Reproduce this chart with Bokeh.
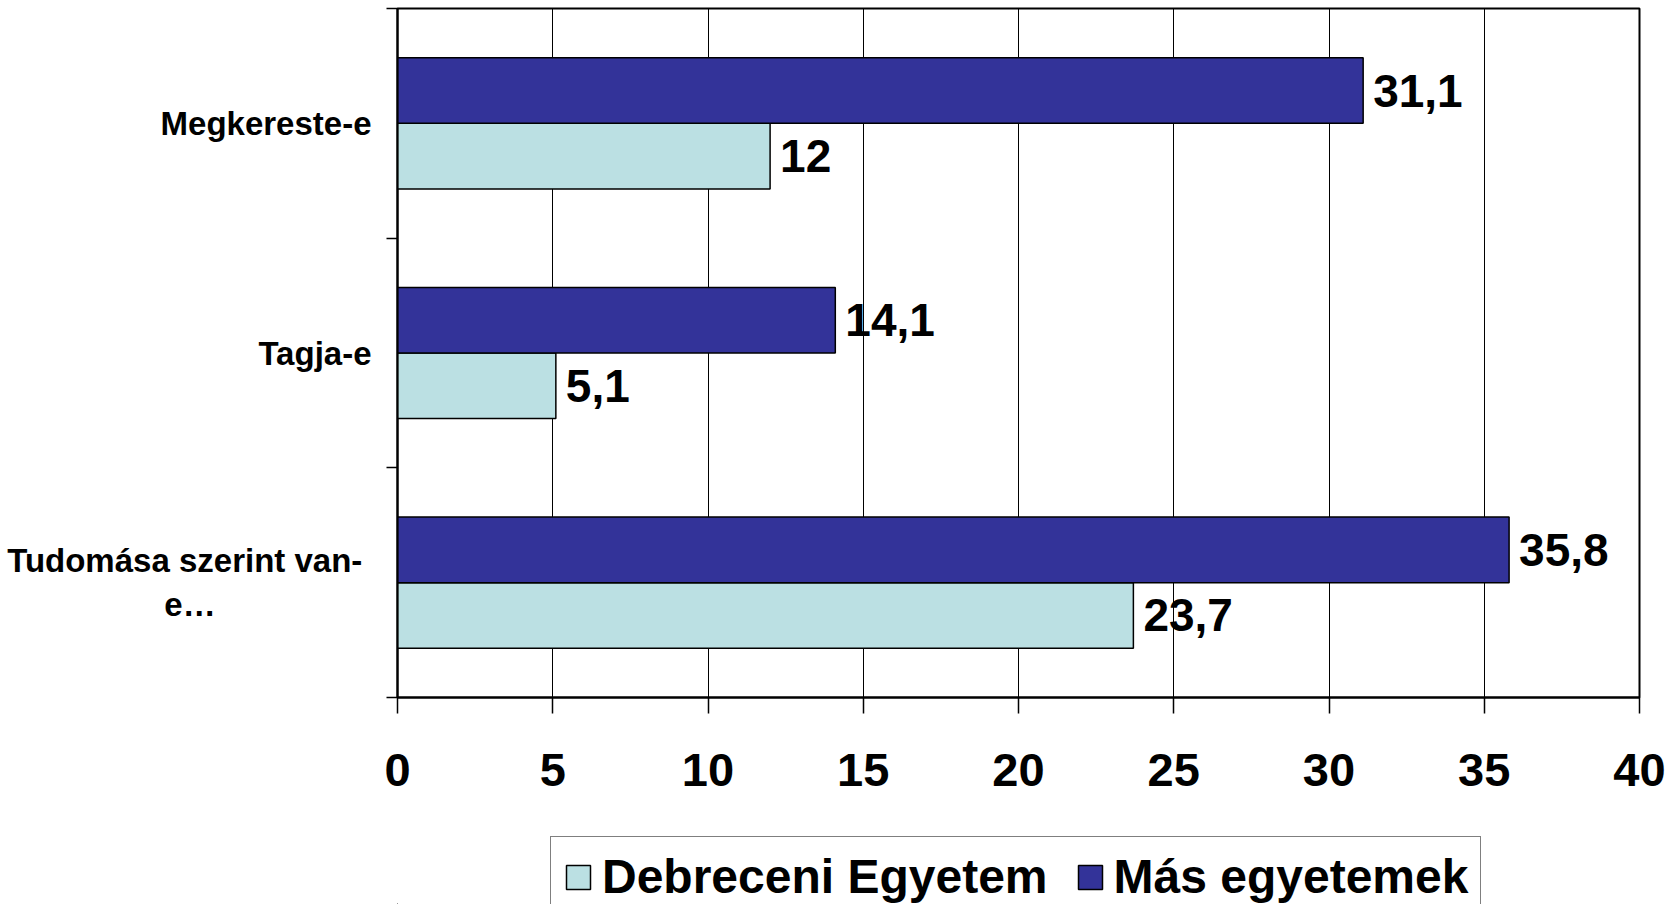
from bokeh.plotting import figure
from bokeh.layouts import column
from bokeh.models import Range1d, FixedTicker, Legend, LegendItem, ColumnDataSource
from bokeh.core.properties import value
from bokeh.embed import file_html
from bokeh.resources import INLINE

categories = ["Megkereste-e", "Tagja-e", "Tudomása szerint van-e…"]
# wrapped display text (no-break spaces keep the short second line centred)
NB = "\u00a0"
category_display = ["Megkereste-e", "Tagja-e",
                    "Tudomása szerint van-" + NB + "\ne…" + NB * 17]
debreceni = [12, 5.1, 23.7]
mas = [31.1, 14.1, 35.8]
series_names = ["Debreceni Egyetem", "Más egyetemek"]
x_ticks = [0, 5, 10, 15, 20, 25, 30, 35, 40]

FONT = value("Liberation Sans")
DARK = "#333399"
LIGHT = "#BBE0E3"
W = 1670

n = len(categories)
centers = [n - i - 0.5 for i in range(n)]
bar_h = 1 / 3.5


def fmt(v):
    return ("%g" % v).replace(".", ",")


src_deb = ColumnDataSource(dict(
    y=[c - bar_h / 2 for c in centers], right=debreceni,
    label=[fmt(v) for v in debreceni]))
src_mas = ColumnDataSource(dict(
    y=[c + bar_h / 2 for c in centers], right=mas,
    label=[fmt(v) for v in mas]))

p = figure(width=W, height=817, x_range=Range1d(0, 40), y_range=Range1d(0, n),
           output_backend="svg", toolbar_location=None,
           min_border_left=397, min_border_right=W - 1639, min_border_top=8,
           min_border_bottom=120)
p.background_fill_color = "white"
p.border_fill_color = "white"
p.outline_line_color = "black"
p.outline_line_width = 2

bar_style = dict(line_color="black", line_width=1.5)
p.hbar(y="y", left=0, right="right", height=bar_h, source=src_deb,
       fill_color=LIGHT, **bar_style)
p.hbar(y="y", left=0, right="right", height=bar_h, source=src_mas,
       fill_color=DARK, **bar_style)

for src in (src_deb, src_mas):
    p.text(x="right", y="y", text="label", source=src, x_offset=10,
           text_baseline="middle", text_align="left", text_font=FONT,
           text_font_style="bold", text_font_size="46px", text_color="black")

# x axis
p.xaxis.ticker = FixedTicker(ticks=x_ticks)
p.xgrid.ticker = FixedTicker(ticks=x_ticks)
p.xgrid.grid_line_color = "black"
p.xgrid.grid_line_width = 1
p.ygrid.visible = False
xa = p.xaxis[0]
xa.axis_line_width = 2
xa.axis_line_color = "black"
xa.major_tick_out = 16
xa.major_tick_in = 0
xa.major_tick_line_color = "black"
xa.major_tick_line_width = 1.5
xa.minor_tick_line_color = None
xa.minor_tick_out = 0
xa.major_label_standoff = 40
xa.major_label_text_font = "Liberation Sans"
xa.major_label_text_font_style = "bold"
xa.major_label_text_font_size = "47px"
xa.major_label_text_color = "black"

# y axis: labels at category centres, ticks at category boundaries
ya = p.yaxis[0]
ya.ticker = FixedTicker(ticks=centers, minor_ticks=[float(i) for i in range(n + 1)])
ya.major_label_overrides = {c: name for c, name in zip(centers, category_display)}
ya.axis_line_width = 2
ya.axis_line_color = "black"
ya.major_tick_out = 0
ya.major_tick_in = 0
ya.major_tick_line_color = None
ya.minor_tick_out = 11
ya.minor_tick_in = 0
ya.minor_tick_line_color = "black"
ya.minor_tick_line_width = 1.5
ya.major_label_standoff = 15
ya.major_label_text_font = "Liberation Sans"
ya.major_label_text_font_style = "bold"
ya.major_label_text_font_size = "33px"
ya.major_label_text_color = "black"
ya.major_label_text_align = "right"

# legend strip below the chart (its proxy bars lie far outside the strip's view)
pl = figure(width=W, height=87, x_range=Range1d(1000, 1001),
            y_range=Range1d(1000, 1001),
            output_backend="svg", toolbar_location=None,
            x_axis_location=None, y_axis_location=None, min_border=0)
pl.outline_line_color = None
pl.xgrid.visible = False
pl.ygrid.visible = False
pl.background_fill_color = "white"
pl.border_fill_color = "white"
l_deb = pl.hbar(y="y", left=0, right="right", height=bar_h, source=src_deb,
                fill_color=LIGHT, **bar_style)
l_mas = pl.hbar(y="y", left=0, right="right", height=bar_h, source=src_mas,
                fill_color=DARK, **bar_style)

legend = Legend(items=[LegendItem(label=series_names[0], renderers=[l_deb]),
                       LegendItem(label=series_names[1], renderers=[l_mas])],
                orientation="horizontal", location=(153, -13))
legend.label_text_font = "Liberation Sans"
legend.label_text_font_style = "bold"
legend.label_text_font_size = "48px"
legend.label_text_color = "black"
legend.glyph_width = 30
legend.glyph_height = 30
legend.label_standoff = 9
legend.spacing = 27
legend.padding = 12
legend.margin = 0
legend.border_line_color = "black"
legend.border_line_width = 1.5
legend.background_fill_color = "white"
legend.background_fill_alpha = 1
pl.add_layout(legend, "center")

layout = column(p, pl, spacing=0)
open("out.html", "w").write(file_html(layout, INLINE))
